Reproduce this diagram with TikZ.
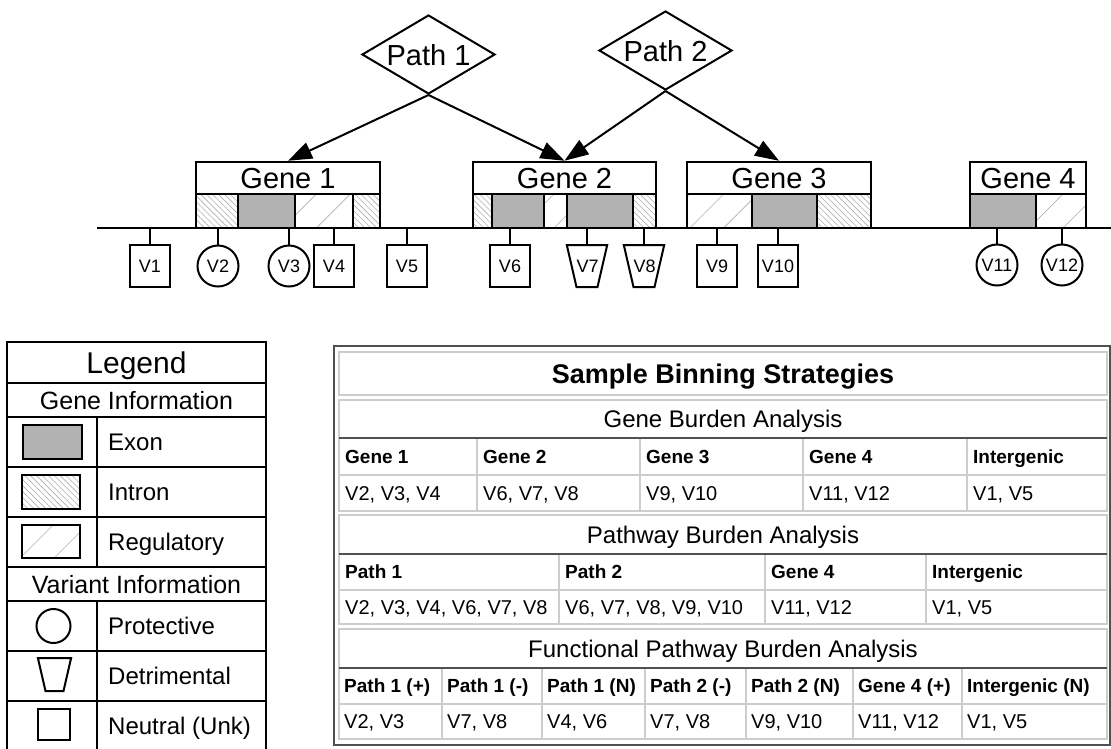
\documentclass[tikz,border=0pt]{standalone}
\usepackage{fontspec}
\setmainfont{Liberation Sans}
\usetikzlibrary{shapes.geometric,arrows.meta,patterns.meta}
\definecolor{exongray}{RGB}{178,178,178}
\definecolor{hatchgray}{RGB}{175,175,175}
\definecolor{celllight}{RGB}{205,205,205}
\definecolor{celldark}{RGB}{80,80,80}

\begin{document}
\begin{tikzpicture}[x=1pt,y=-1pt,
	every node/.style={inner sep=0pt},
	pathway/.style={draw,line width=2pt,diamond,aspect=1.68,minimum width=133pt,minimum height=79pt,font=\fontsize{29}{30}\selectfont,text height=21pt,text depth=0pt},
	gene/.style={draw,line width=2.5pt,rectangle,minimum height=32pt,font=\fontsize{29}{30}\selectfont,text height=21pt,text depth=0pt},
	exon/.style={draw,line width=2.5pt,fill=exongray},
	intron/.style={draw,line width=2.5pt,pattern={Lines[angle=-45,distance=4.2pt,line width=0.6pt]},pattern color=hatchgray},
	regulatory/.style={draw,line width=2.5pt,pattern={Lines[angle=45,distance=24pt,line width=0.6pt]},pattern color=hatchgray},
	vlabel/.style={font=\fontsize{18}{19}\selectfont,text height=13pt,text depth=0pt},
	neutral/.style={vlabel,draw,line width=2pt,rectangle,minimum width=40pt,minimum height=42pt},
	protective/.style={vlabel,draw,line width=2pt,circle,minimum size=41pt},
	detrimental/.style={vlabel,draw,line width=2pt,trapezium,shape border rotate=180,trapezium angle=77,text width=21pt,align=center,inner xsep=0pt,inner ysep=14.5pt},
	link/.style={-{Triangle[length=24pt,width=17pt]},line width=2pt},
	stem/.style={line width=2pt},
	legtitle/.style={font=\fontsize{30}{31}\selectfont,text height=21.6pt,text depth=0pt},
	legsub/.style={font=\fontsize{25}{26}\selectfont,text height=18pt,text depth=0pt},
	legitem/.style={anchor=west,font=\fontsize{24}{25}\selectfont,text height=17.3pt,text depth=0pt},
	cellline/.style={draw=celllight,line width=1.5pt},
	sectionrule/.style={draw=celldark,line width=2pt},
	tabtitle/.style={font=\bfseries\fontsize{27}{28}\selectfont,text height=19.4pt,text depth=0pt},
	sectitle/.style={font=\fontsize{24}{25}\selectfont,text height=17.3pt,text depth=0pt},
	head/.style={anchor=west,font=\bfseries\fontsize{19}{20}\selectfont,text height=13.7pt,text depth=0pt},
	val/.style={anchor=west,font=\fontsize{20}{21}\selectfont,text height=14.4pt,text depth=0pt}]
	\useasboundingbox (0,0) rectangle (1111,748);

	\node[pathway] (p1) at (428.5,54.5) {Path 1};
	\node[pathway] (p2) at (665.5,50.5) {Path 2};

	\node[gene,minimum width=184pt] (g1) at (288,178) {Gene 1};
	\node[gene,minimum width=183pt] (g2) at (564.5,178) {Gene 2};
	\node[gene,minimum width=184pt] (g3) at (779,178) {Gene 3};
	\node[gene,minimum width=116pt] (g4) at (1028,178) {Gene 4};

	\draw[intron] (196,194) rectangle (238,228);
	\draw[exon] (238,194) rectangle (295,228);
	\draw[regulatory] (295,194) rectangle (353,228);
	\draw[intron] (353,194) rectangle (380,228);
	\draw[intron] (473,194) rectangle (492,228);
	\draw[exon] (492,194) rectangle (544,228);
	\draw[regulatory] (544,194) rectangle (567,228);
	\draw[exon] (567,194) rectangle (633,228);
	\draw[intron] (633,194) rectangle (656,228);
	\draw[regulatory] (687,194) rectangle (752,228);
	\draw[exon] (752,194) rectangle (817,228);
	\draw[intron] (817,194) rectangle (871,228);
	\draw[exon] (970,194) rectangle (1036,228);
	\draw[regulatory] (1036,194) rectangle (1086,228);

	\draw[link] (p1.south) -- (g1.north);
	\draw[link] (p1.south) -- (g2.north);
	\draw[link] (p2.south) -- (g2.north);
	\draw[link] (p2.south) -- (g3.north);

	\coordinate (chrL) at (97,228);
	\coordinate (chrR) at (1111,228);
	\draw[line width=2.5pt] (chrL) -- (chrR);

	\node[neutral] (v1) at (150,266) {V1};
	\node[protective] (v2) at (218,266) {V2};
	\node[protective] (v3) at (289,266) {V3};
	\node[neutral] (v4) at (334,266) {V4};
	\node[neutral] (v5) at (407,266) {V5};
	\node[neutral] (v6) at (510,266) {V6};
	\node[detrimental] (v7) at (587,266) {V7};
	\node[detrimental] (v8) at (644,266) {V8};
	\node[neutral] (v9) at (717,266) {V9};
	\node[neutral] (v10) at (778,266) {V10};
	\node[protective] (v11) at (997,265) {V11};
	\node[protective] (v12) at (1062,265) {V12};
	\draw[stem] (v1.north) -- (v1.north |- chrL);
	\draw[stem] (v2.north) -- (v2.north |- chrL);
	\draw[stem] (v3.north) -- (v3.north |- chrL);
	\draw[stem] (v4.north) -- (v4.north |- chrL);
	\draw[stem] (v5.north) -- (v5.north |- chrL);
	\draw[stem] (v6.north) -- (v6.north |- chrL);
	\draw[stem] (v7.north) -- (v7.north |- chrL);
	\draw[stem] (v8.north) -- (v8.north |- chrL);
	\draw[stem] (v9.north) -- (v9.north |- chrL);
	\draw[stem] (v10.north) -- (v10.north |- chrL);
	\draw[stem] (v11.north) -- (v11.north |- chrL);
	\draw[stem] (v12.north) -- (v12.north |- chrL);

	\draw[line width=2pt] (7,342) rectangle (266,753);
	\draw[line width=2pt] (7,383) -- (266,383);
	\draw[line width=2pt] (7,417) -- (266,417);
	\draw[line width=2pt] (7,467) -- (266,467);
	\draw[line width=2pt] (7,517) -- (266,517);
	\draw[line width=2pt] (7,567) -- (266,567);
	\draw[line width=2pt] (7,601) -- (266,601);
	\draw[line width=2pt] (7,651) -- (266,651);
	\draw[line width=2pt] (7,701) -- (266,701);
	\draw[line width=2pt] (97,417) -- (97,567);
	\draw[line width=2pt] (97,601) -- (97,753);
	\node[legtitle] (lt) at (136.5,362.5) {Legend};
	\node[legsub] (lgi) at (136.5,400) {Gene Information};
	\node[legsub] (lvi) at (136.5,584) {Variant Information};
	\draw[exon,line width=2pt] (23,425) rectangle (82,459);
	\draw[intron,line width=2pt] (22,475) rectangle (80,509);
	\draw[regulatory,line width=2pt] (22,525) rectangle (80,558);
	\node[draw,line width=2pt,circle,minimum size=34pt] (kpr) at (53.5,626) {};
	\node[draw,line width=2pt,trapezium,shape border rotate=180,trapezium angle=77,text width=18pt,inner xsep=0pt,inner ysep=16.5pt] (kde) at (54.5,674.5) {};
	\node[draw,line width=2pt,rectangle,minimum width=32pt,minimum height=31pt] (kne) at (54,724.5) {};
	\node[legitem] (lex) at (108,442) {Exon};
	\node[legitem] (lin) at (108,492) {Intron};
	\node[legitem] (lre) at (108,542) {Regulatory};
	\node[legitem] (lpr) at (108,626) {Protective};
	\node[legitem] (lde) at (108,676) {Detrimental};
	\node[legitem] (lne) at (108,726) {Neutral (Unk)};

	\draw[draw=celldark,line width=2pt] (334,346) rectangle (1110,745);
	\draw[cellline] (339,352) rectangle (1107,395);
	\node[tabtitle] (tt) at (723,373.5) {Sample Binning Strategies};

	\draw[cellline] (339,400) rectangle (1107,511);
	\draw[cellline] (339,475) -- (1107,475);
	\draw[cellline] (477,438) -- (477,511);
	\draw[cellline] (640,438) -- (640,511);
	\draw[cellline] (803,438) -- (803,511);
	\draw[cellline] (967,438) -- (967,511);
	\draw[sectionrule] (339,438) -- (1107,438);
	\node[sectitle] (sg) at (723,419) {Gene Burden Analysis};
	\node[head] (hg1) at (345,456.5) {Gene 1};
	\node[head] (hg2) at (483,456.5) {Gene 2};
	\node[head] (hg3) at (646,456.5) {Gene 3};
	\node[head] (hg4) at (809,456.5) {Gene 4};
	\node[head] (hg5) at (973,456.5) {Intergenic};
	\node[val] (vg1) at (345,493) {V2, V3, V4};
	\node[val] (vg2) at (483,493) {V6, V7, V8};
	\node[val] (vg3) at (646,493) {V9, V10};
	\node[val] (vg4) at (809,493) {V11, V12};
	\node[val] (vg5) at (973,493) {V1, V5};

	\draw[cellline] (339,515) rectangle (1107,624);
	\draw[cellline] (339,590) -- (1107,590);
	\draw[cellline] (559,554) -- (559,624);
	\draw[cellline] (765,554) -- (765,624);
	\draw[cellline] (926,554) -- (926,624);
	\draw[sectionrule] (339,554) -- (1107,554);
	\node[sectitle] (sp) at (723,534.5) {Pathway Burden Analysis};
	\node[head] (hp1) at (345,572) {Path 1};
	\node[head] (hp2) at (565,572) {Path 2};
	\node[head] (hp3) at (771,572) {Gene 4};
	\node[head] (hp4) at (932,572) {Intergenic};
	\node[val] (vp1) at (345,607) {V2, V3, V4, V6, V7, V8};
	\node[val] (vp2) at (565,607) {V6, V7, V8, V9, V10};
	\node[val] (vp3) at (771,607) {V11, V12};
	\node[val] (vp4) at (932,607) {V1, V5};

	\draw[cellline] (339,629) rectangle (1107,739);
	\draw[cellline] (339,704) -- (1107,704);
	\draw[cellline] (442,668) -- (442,739);
	\draw[cellline] (542,668) -- (542,739);
	\draw[cellline] (645,668) -- (645,739);
	\draw[cellline] (746,668) -- (746,739);
	\draw[cellline] (853,668) -- (853,739);
	\draw[cellline] (962,668) -- (962,739);
	\draw[sectionrule] (339,668) -- (1107,668);
	\node[sectitle] (sf) at (723,648.5) {Functional Pathway Burden Analysis};
	\node[head] (hf1) at (344,686) {Path 1 (+)};
	\node[head] (hf2) at (447,686) {Path 1 (-)};
	\node[head] (hf3) at (547,686) {Path 1 (N)};
	\node[head] (hf4) at (650,686) {Path 2 (-)};
	\node[head] (hf5) at (751,686) {Path 2 (N)};
	\node[head] (hf6) at (858,686) {Gene 4 (+)};
	\node[head] (hf7) at (967,686) {Intergenic (N)};
	\node[val] (vf1) at (344,721.5) {V2, V3};
	\node[val] (vf2) at (447,721.5) {V7, V8};
	\node[val] (vf3) at (547,721.5) {V4, V6};
	\node[val] (vf4) at (650,721.5) {V7, V8};
	\node[val] (vf5) at (751,721.5) {V9, V10};
	\node[val] (vf6) at (858,721.5) {V11, V12};
	\node[val] (vf7) at (967,721.5) {V1, V5};
\end{tikzpicture}
\end{document}
